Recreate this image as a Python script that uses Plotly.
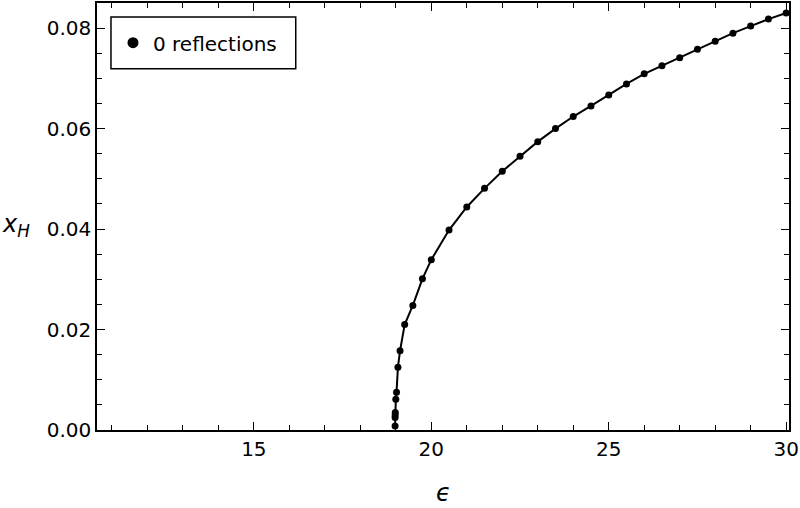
import plotly.graph_objects as go

eps = [18.98, 18.98, 18.982, 18.985, 19.0, 19.02, 19.06, 19.12, 19.25, 19.48,
       19.75, 20.0, 20.5, 21.0, 21.5, 22.0, 22.5, 23.0, 23.5, 24.0,
       24.5, 25.0, 25.5, 26.0, 26.5, 27.0, 27.5, 28.0, 28.5, 29.0,
       29.5, 30.0]
xH = [0.0008, 0.0025, 0.0030, 0.0035, 0.0061, 0.0075, 0.0125, 0.0158, 0.0210, 0.0248,
      0.0301, 0.0339, 0.0398, 0.0444, 0.0481, 0.0515, 0.0545, 0.0574, 0.0600, 0.0624,
      0.0645, 0.0667, 0.0689, 0.0709, 0.0725, 0.0741, 0.0758, 0.0774, 0.0790, 0.0804,
      0.0818, 0.0830]
series_name = "0 reflections"
x_title = "<i>ϵ</i>"
y_title = "<i>x</i><sub><i>H</i></sub>"

FONT = "DejaVu Sans"

fig = go.Figure()
fig.add_trace(go.Scatter(x=eps, y=xH, mode="lines+markers", line=dict(color="black", width=2),
                         marker=dict(color="black", size=7), cliponaxis=False,
                         showlegend=False, hoverinfo="skip"))
# legend entry (marker only, like the reference legend)
fig.add_trace(go.Scatter(x=[None], y=[None], mode="markers", name=series_name,
                         marker=dict(color="black", size=11)))

axis_common = dict(showline=True, linecolor="black", linewidth=1.5, mirror="allticks",
                   ticks="inside", ticklen=8, tickwidth=1, tickcolor="black",
                   showgrid=False, zeroline=False,
                   tickfont=dict(family=FONT, size=20, color="black"))
fig.update_xaxes(range=[10.58, 30.08], dtick=5, tick0=0,
                 minor=dict(ticks="inside", dtick=1, tick0=0, ticklen=5, tickcolor="black"),
                 **axis_common)
fig.update_yaxes(range=[0, 0.085], dtick=0.02, tick0=0, tickformat=".2f",
                 minor=dict(ticks="inside", dtick=0.005, tick0=0, ticklen=5, tickcolor="black"),
                 **axis_common)

fig.add_annotation(text=x_title, xref="paper", yref="paper", x=0.5, y=-0.147,
                   showarrow=False, xanchor="center", yanchor="middle",
                   font=dict(family=FONT, size=24, color="black"))
fig.add_annotation(text=y_title, xref="paper", yref="paper", x=-0.117, y=0.48,
                   showarrow=False, xanchor="center", yanchor="middle",
                   font=dict(family=FONT, size=24, color="black"))

# legend frame
fig.add_shape(type="rect", xref="paper", yref="paper",
              x0=0.0202, x1=0.2872, y0=0.846, y1=0.967,
              line=dict(color="black", width=1.5), fillcolor="white", layer="below")

fig.update_layout(
    width=800, height=508,
    margin=dict(l=97, r=10, t=1, b=78),
    plot_bgcolor="white", paper_bgcolor="white",
    legend=dict(x=0.0231, y=0.907, xanchor="left", yanchor="middle",
                borderwidth=0, bgcolor="rgba(0,0,0,0)",
                font=dict(family=FONT, size=20, color="black")),
)
fig.write_html("out.html", config={"displayModeBar": False},
               post_script="document.body.style.margin='0';")
